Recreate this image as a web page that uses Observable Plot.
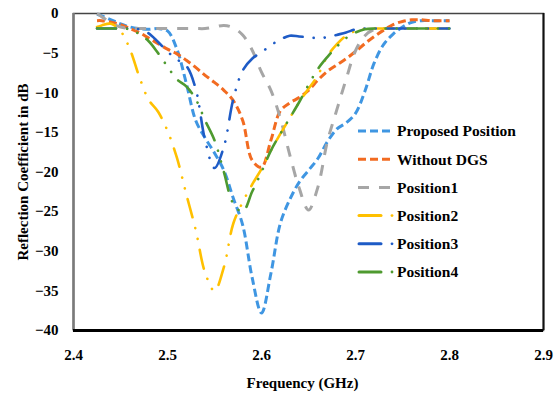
<!DOCTYPE html>
<html>
<head>
<meta charset="utf-8">
<script src="https://cdn.jsdelivr.net/npm/d3@7"></script>
<script src="https://cdn.jsdelivr.net/npm/@observablehq/plot@0.6"></script>
<style>
  html, body { margin: 0; padding: 0; background: white; }
  #chart { width: 555px; height: 394px; }
  #chart svg, #chart svg text { font-family: "Liberation Serif", "Times New Roman", Times, "DejaVu Serif", serif !important; font-weight: bold; }
</style>
</head>
<body>
<div id="chart"></div>
<script>
// Frequency grid (GHz)
const freq = [2.425, 2.43, 2.44, 2.45, 2.46, 2.47, 2.48, 2.49, 2.50, 2.51, 2.52, 2.53, 2.54, 2.55, 2.56, 2.57, 2.58, 2.59, 2.60, 2.61, 2.62, 2.63, 2.64, 2.65, 2.66, 2.67, 2.68, 2.69, 2.70, 2.71, 2.72, 2.73, 2.74, 2.75, 2.76, 2.77, 2.78, 2.79, 2.80];

// Reflection coefficient (dB) for each series
const proposedPosition = [-0.1, -0.3, -0.8, -1.3, -1.7, -1.9, -2.0, -1.9, -2.2, -4.5, -8.8, -13.5, -15.7, -17.6, -19.8, -23.3, -26.7, -33.3, -37.8, -32.8, -26.5, -23.5, -21.3, -19.8, -18.3, -16.2, -14.6, -13.8, -12.6, -9.8, -6.2, -3.9, -2.6, -1.7, -1.1, -0.9, -0.9, -0.9, -0.9];
const withoutDGS = [-0.9, -0.9, -1.1, -1.4, -1.9, -2.4, -3.1, -3.8, -4.5, -5.1, -5.9, -6.8, -7.8, -8.7, -9.7, -11.0, -13.5, -18.5, -19.4, -16.0, -12.3, -11.3, -10.6, -9.7, -8.4, -7.3, -6.5, -5.7, -4.8, -3.8, -2.9, -2.1, -1.4, -1.0, -0.8, -0.8, -0.9, -0.9, -0.9];
const position1 = [0, -0.4, -1.2, -1.7, -1.9, -1.9, -1.9, -1.9, -1.9, -1.9, -1.9, -1.9, -1.9, -1.7, -1.5, -1.8, -2.7, -4.6, -7.4, -9.7, -13.2, -17.8, -22.0, -24.8, -21.9, -16.2, -12.2, -8.3, -4.7, -2.8, -2.0, -1.9, -1.9, -1.9, -1.9, -1.9, -1.9, -1.9, -1.9];
const position2 = [-1.7, -1.5, -1.3, -2.2, -4.5, -8.0, -10.9, -12.4, -14.8, -18.2, -22.8, -27.3, -32.7, -35.0, -32.0, -26.5, -23.8, -21.6, -19.6, -17.3, -15.2, -13.2, -11.2, -9.5, -7.8, -5.4, -3.9, -2.8, -2.2, -1.9, -1.9, -1.9, -1.9, -1.9, -1.9, -1.9, -1.9, -1.9, -1.9];
const position3 = [-1.9, -1.9, -1.9, -1.9, -1.9, -2.0, -2.5, -3.6, -4.8, -5.8, -6.6, -9.5, -16.0, -19.5, -16.8, -10.8, -7.2, -5.7, -4.9, -4.0, -3.3, -2.8, -2.9, -3.0, -3.1, -3.0, -2.7, -2.4, -2.0, -1.9, -1.9, -1.9, -1.9, -1.9, -1.9, -1.9, -1.9, -1.9, -1.9];
const position4 = [-1.9, -1.9, -1.9, -1.9, -2.0, -2.6, -3.5, -5.0, -6.7, -8.3, -9.2, -10.8, -13.5, -16.0, -20.0, -24.0, -25.0, -22.5, -20.0, -17.3, -15.2, -13.2, -11.2, -9.0, -7.0, -5.5, -4.2, -3.1, -2.4, -2.0, -1.9, -1.9, -1.9, -1.9, -1.9, -1.9, -1.9, -1.9, -1.9];

const seriesNames = ["Proposed Position", "Without DGS", "Position1", "Position2", "Position3", "Position4"];
const seriesValues = [proposedPosition, withoutDGS, position1, position2, position3, position4];

const xTicks = [2.4, 2.5, 2.6, 2.7, 2.8, 2.9];
const yTicks = [-40, -35, -30, -25, -20, -15, -10, -5, 0];

// Styles
const colors = ["#3F96E2", "#F26B21", "#A6A6A6", "#FFC000", "#1E5BC6", "#4E9A2F"];
const dashDot = "19,11,0.1,11,0.1,11";
const dashes = ["8,4", "8,4", "11,10", dashDot, dashDot, dashDot];
const caps = ["butt", "butt", "butt", "round", "round", "round"];
const widths = [3, 3, 3, 2.6, 2.6, 2.6];

const rows = seriesNames.map((name, i) => freq.map((f, j) => ({series: name, f, v: seriesValues[i][j]})));

const W = 555, H = 394;
const mL = 73, mR = 12, mT = 13, mB = 64;
const serif = "'Liberation Serif', 'Times New Roman', Times, 'DejaVu Serif', serif";

const lineMarks = rows.map((data, i) => Plot.line(data, {
  x: "f", y: "v",
  stroke: colors[i],
  strokeWidth: widths[i],
  strokeDasharray: dashes[i],
  strokeLinecap: caps[i],
  curve: "catmull-rom"
}));

const chart = Plot.plot({
  width: W, height: H,
  marginLeft: mL, marginRight: mR, marginTop: mT, marginBottom: mB,
  style: {fontFamily: serif, fontSize: "15px", fontWeight: "bold", color: "black", background: "white"},
  x: {domain: [2.4, 2.9]},
  y: {domain: [-40, 0]},
  marks: [
    Plot.frame({stroke: "#444", strokeWidth: 1.5}),
    ...lineMarks,
    Plot.ruleX([2.9], {stroke: "#111", strokeWidth: 2}),
    Plot.ruleX([2.4], {stroke: "#7a7a7a", strokeWidth: 2.5}),
    Plot.ruleY([-40], {stroke: "black", strokeWidth: 3}),
    Plot.axisX({ticks: xTicks, tickFormat: d3.format(".1f"), tickSize: 0, tickPadding: 19, label: null}),
    Plot.axisY({ticks: yTicks, tickFormat: d => d === 0 ? "0" : d3.format("d")(d), tickSize: 0, tickPadding: 15, label: null}),
    Plot.text(["Frequency (GHz)"], {text: d => d, frameAnchor: "bottom", textAnchor: "middle", dy: 57, dx: -6}),
    Plot.text(["Reflection Coefficient in dB"], {text: d => d, frameAnchor: "left", textAnchor: "middle", rotate: -90, dx: -50})
  ]
});

document.getElementById("chart").appendChild(chart);

// Legend inside the plot area
const svg = d3.select(chart);
const lg = svg.append("g")
  .attr("font-family", serif)
  .attr("font-weight", "bold")
  .attr("font-size", "15.5px")
  .attr("text-anchor", "start");
const lx0 = 358, lx1 = 390, ly0 = 131, lstep = 28.2;
seriesNames.forEach((name, i) => {
  const y = ly0 + i * lstep;
  if (caps[i] === "round") {
    lg.append("line").attr("x1", lx0 + 1).attr("x2", 381).attr("y1", y).attr("y2", y)
      .attr("stroke", colors[i]).attr("stroke-width", 3).attr("stroke-linecap", "round");
    lg.append("circle").attr("cx", 392).attr("cy", y).attr("r", 1.4).attr("fill", colors[i]);
  } else {
    lg.append("line").attr("x1", lx0).attr("x2", lx1).attr("y1", y).attr("y2", y)
      .attr("stroke", colors[i]).attr("stroke-width", 3).attr("stroke-dasharray", dashes[i]);
  }
  lg.append("text").attr("x", 397).attr("y", y).attr("dy", "0.35em").attr("text-anchor", "start").attr("fill", "black").text(name);
});
</script>
</body>
</html>
